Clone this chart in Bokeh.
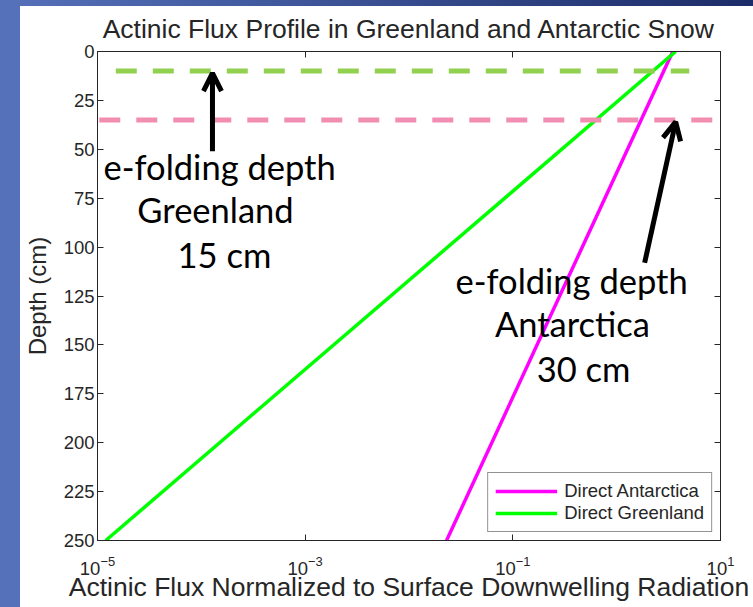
from bokeh.plotting import figure
from bokeh.models import (Range1d, FixedTicker, LogAxis, LinearAxis, Arrow, OpenHead,
                          Label, Legend, LegendItem)
from bokeh.embed import file_html
from bokeh.resources import INLINE

# ---- data ----
depth = [0, 250]
flux_antarctica = [3.47, 0.023]
flux_greenland = [3.7, 1.2e-5]
x_ticks = [1e-5, 1e-3, 1e-1, 1e1]
y_ticks = [0, 25, 50, 75, 100, 125, 150, 175, 200, 225, 250]

efold_green_depth = 10
efold_green_x = [1.5e-5, 5.0]
efold_pink_depth = 35
efold_pink_x = [1.04e-5, 9.8]

arrow_green = dict(x_start=1.28e-4, y_start=51, x_end=1.28e-4, y_end=11)
arrow_pink = dict(x_start=1.86, y_start=108, x_end=3.7, y_end=36)

left_text = ["e-folding depth", "Greenland", "15 cm"]
left_text_x = [1.5e-4, 1.37e-4, 1.67e-4]
left_text_y = [59, 81, 104]
right_text = ["e-folding depth", "Antarctica", "30 cm"]
right_text_x = [0.368, 0.375, 0.48]
right_text_y = [117, 139, 162]

W, H = 753, 607
p = figure(width=W, height=H, x_axis_type="log",
           x_range=Range1d(1e-5, 1e1), y_range=Range1d(250, 0),
           output_backend="svg", toolbar_location=None,
           min_border_left=97, min_border_right=33, min_border_top=51, min_border_bottom=67,
           background_fill_color="white", border_fill_color=None)
# slide background: blue bar on the left, gradient bar on top, white elsewhere
p.styles = {
    "background-color": "white",
    "background-image": "linear-gradient(to right, #5571BA 20px, transparent 20px), "
                        "linear-gradient(to right, #5571BA, #1C2C68)",
    "background-size": "100% 100%, 100% 6px",
    "background-repeat": "no-repeat",
}
p.grid.visible = False
p.outline_line_color = "#262626"
p.outline_line_width = 1

FONT = "Liberation Sans"
p.title.text = "Actinic Flux Profile in Greenland and Antarctic Snow"
p.title.align = "center"
p.title.text_font = FONT
p.title.text_font_size = "26.5px"
p.title.text_font_style = "normal"
p.title.text_color = "#262626"
p.title.standoff = 16

for ax in (p.xaxis[0], p.yaxis[0]):
    ax.major_tick_in = 6
    ax.major_tick_out = 0
    ax.minor_tick_in = 0
    ax.minor_tick_out = 0
    ax.axis_line_color = "#262626"
    ax.major_tick_line_color = "#262626"
    ax.major_label_text_font = FONT
    ax.major_label_text_font_size = "18.5px"
    ax.major_label_text_color = "#262626"
    ax.axis_label_text_font = FONT
    ax.axis_label_text_font_style = "normal"
    ax.axis_label_text_color = "#262626"

p.xaxis[0].ticker = FixedTicker(ticks=x_ticks, minor_ticks=[])
p.yaxis[0].ticker = FixedTicker(ticks=y_ticks, minor_ticks=[])
p.xaxis[0].axis_label = "Actinic Flux Normalized to Surface Downwelling Radiation"
p.xaxis[0].axis_label_text_font_size = "26.5px"
p.xaxis[0].axis_label_standoff = -6
p.xaxis[0].major_label_standoff = 15
p.yaxis[0].axis_label = "Depth (cm)"
p.yaxis[0].axis_label_text_font_size = "24px"
p.yaxis[0].axis_label_standoff = 10
p.yaxis[0].major_label_standoff = 3

top_ax = LogAxis(ticker=FixedTicker(ticks=x_ticks, minor_ticks=[]), major_tick_in=6, major_tick_out=0,
                 minor_tick_in=0, minor_tick_out=0, major_label_text_alpha=0,
                 major_label_text_font_size="2px", major_label_standoff=0,
                 axis_line_color="#262626", major_tick_line_color="#262626")
right_ax = LinearAxis(ticker=FixedTicker(ticks=y_ticks, minor_ticks=[]), major_tick_in=6, major_tick_out=0,
                      minor_tick_in=0, minor_tick_out=0, major_label_text_alpha=0,
                      major_label_text_font_size="2px", major_label_standoff=0,
                      axis_line_color="#262626", major_tick_line_color="#262626")
p.add_layout(top_ax, "above")
p.add_layout(right_ax, "right")

# curves
r_ant = p.line(flux_antarctica, depth, line_color="#FF00FF", line_width=3.5)
r_grn = p.line(flux_greenland, depth, line_color="#00FF00", line_width=3.5)

# e-folding dashed lines
p.line(efold_green_x, [efold_green_depth] * 2, line_color="#92D050", line_width=5, line_dash="21 16")
p.line(efold_pink_x, [efold_pink_depth] * 2, line_color="#F28DB2", line_width=5, line_dash="21 16")

# arrows
for a in (arrow_green, arrow_pink):
    p.add_layout(Arrow(end=OpenHead(size=18, line_width=5, line_color="black"),
                       line_width=5, line_color="black", **a))

for txt, xs, ys in ((left_text, left_text_x, left_text_y), (right_text, right_text_x, right_text_y)):
    for t, x, y in zip(txt, xs, ys):
        p.add_layout(Label(x=x, y=y, text=t, text_align="center", text_baseline="alphabetic",
                           text_font="Lato", text_font_size="34.5px", text_color="black"))

legend = Legend(items=[LegendItem(label="Direct Antarctica", renderers=[r_ant]),
                       LegendItem(label="Direct Greenland", renderers=[r_grn])],
                location="bottom_right", label_text_font=FONT, label_text_font_size="18.5px",
                label_text_color="#262626", border_line_color="#262626", border_line_width=1,
                glyph_width=62, glyph_height=18, label_height=18, spacing=0, padding=7,
                margin=8, label_standoff=7)
p.add_layout(legend)

open("out.html", "w").write(file_html(p, INLINE))
